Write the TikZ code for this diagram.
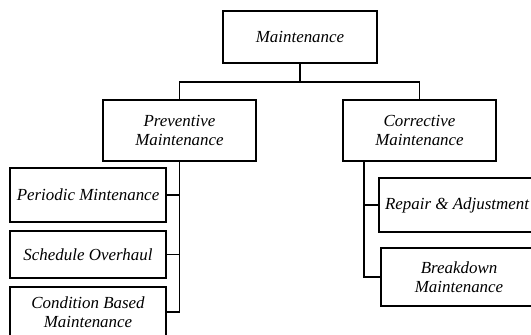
\documentclass[tikz,border=0pt]{standalone}
\usepackage{fontspec}
\setmainfont{Liberation Serif}
\begin{document}
\begin{tikzpicture}[x=1bp,y=-1bp,
  box/.style={draw, line width=1.4bp, align=center, inner sep=0pt,
    font=\fontsize{17}{19.5}\selectfont\itshape},
  conn/.style={line width=1.4bp}]
\useasboundingbox (0,0) rectangle (531,334);
\clip (0,0) rectangle (531,334);
\node[box, minimum width=154bp, minimum height=52bp] (top) at (300,37) {Maintenance};
\node[box, minimum width=153bp, minimum height=61bp] (prev) at (179.5,130.5) {Preventive\\Maintenance};
\node[box, minimum width=153bp, minimum height=61bp] (corr) at (419.5,130.5) {Corrective\\Maintenance};
\node[box, minimum width=156bp, minimum height=54bp] (per) at (88,195) {Periodic Mintenance};
\node[box, minimum width=156bp, minimum height=47bp] (sch) at (88,254.5) {Schedule Overhaul};
\node[box, minimum width=156bp, minimum height=50bp] (cond) at (88,312) {Condition Based\\Maintenance};
\node[box, minimum width=156bp, minimum height=54bp] (rep) at (457,205) {Repair \& Adjustment};
\node[box, minimum width=156bp, minimum height=58bp] (bd) at (459,277) {Breakdown\\Maintenance};
\coordinate (j) at (300,82);
\coordinate (rs) at (364,161);
\draw[conn] (top.south) -- (j);
\draw[conn] (j) -| (prev.north);
\draw[conn] (j) -| (corr.north);
\draw[conn] (prev.south) |- (cond.east);
\draw[conn] (prev.south |- per.east) -- (per.east);
\draw[conn] (prev.south |- sch.east) -- (sch.east);
\draw[conn] (rs) |- (bd.west);
\draw[conn] (rs |- rep.west) -- (rep.west);
\end{tikzpicture}
\end{document}
